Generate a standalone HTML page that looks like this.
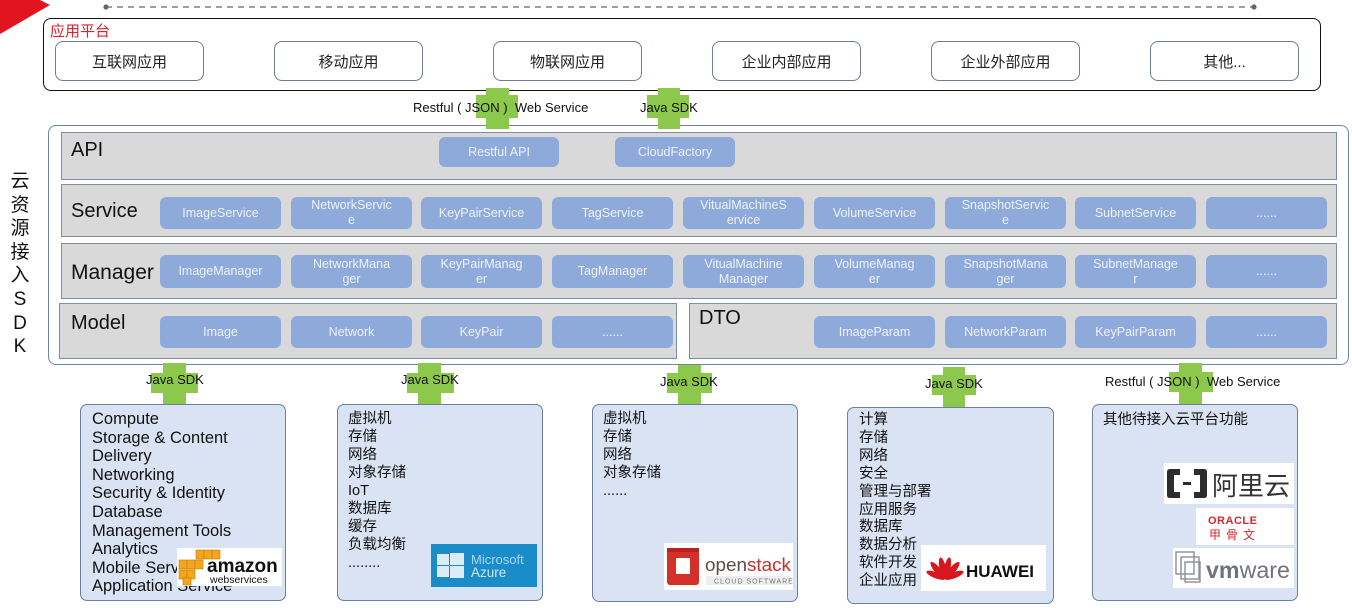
<!DOCTYPE html>
<html><head><meta charset="utf-8">
<style>
*{margin:0;padding:0;box-sizing:border-box}
body{width:1352px;height:608px;background:#fff;position:relative;overflow:hidden;font-family:"Liberation Sans","Noto Sans CJK SC",sans-serif;color:#111}
.a{position:absolute}
.app{position:absolute;top:41px;height:40px;width:149px;border:1px solid #6b7c93;border-radius:8px;background:#fff;display:flex;align-items:center;justify-content:center;font-size:15px;color:#222;font-family:"Liberation Sans","Noto Sans CJK SC",sans-serif}
.row{position:absolute;background:#d9d9d9;border:1px solid #7d8ea6}
.lbl{position:absolute;font-size:20px;color:#111;line-height:1}
.pill{position:absolute;width:121px;background:#8eaadb;border-radius:6px;color:#eef2fa;font-size:12.5px;line-height:15px;display:flex;align-items:center;justify-content:center;text-align:center}
.g{position:absolute;background:#8cc84b}
.ct{position:absolute;font-size:13px;color:#111;white-space:nowrap;line-height:1}
.bx{position:absolute;background:#dae3f3;border:1px solid #6a80a0;border-radius:7px}
.tx{position:absolute;white-space:nowrap;color:#111}
.logo{position:absolute;background:#fff;overflow:hidden}
</style></head><body>

<!-- red corner -->
<svg class="a" style="left:0;top:0" width="60" height="40"><polygon points="0,0 40,0 50,5 0,34" fill="#e3141e"/></svg>
<!-- dashed line -->
<svg class="a" style="left:0;top:0" width="1352" height="14">
<line x1="106" y1="7" x2="1254" y2="7" stroke="#666" stroke-width="1.3" stroke-dasharray="6,5"/>
<circle cx="106" cy="7" r="2.6" fill="#666"/><circle cx="1254" cy="7" r="2.6" fill="#666"/>
</svg>

<!-- app platform -->
<div class="a" style="left:43px;top:18px;width:1278px;height:73px;border:1.5px solid #111;border-radius:8px"></div>
<div class="a" style="left:50px;top:23px;font-size:15px;color:#e0202a;line-height:18px">应用平台</div>
<div class="app" style="left:55px">互联网应用</div>
<div class="app" style="left:274px">移动应用</div>
<div class="app" style="left:493px">物联网应用</div>
<div class="app" style="left:712px">企业内部应用</div>
<div class="app" style="left:931px">企业外部应用</div>
<div class="app" style="left:1150px">其他...</div>

<!-- SDK big box -->
<div class="a" style="left:48px;top:125px;width:1301px;height:240px;border:1px solid #6f86a6;border-radius:8px;background:#fff"></div>

<!-- top crosses -->
<div class="g" style="left:486px;top:88px;width:23px;height:41px"></div>
<div class="g" style="left:476px;top:95px;width:42px;height:23px"></div>
<div class="g" style="left:658px;top:88px;width:22px;height:41px"></div>
<div class="g" style="left:647px;top:95px;width:42px;height:23px"></div>
<div class="ct" style="left:413px;top:101px">Restful ( JSON )&nbsp; Web Service</div>
<div class="ct" style="left:640px;top:101px">Java SDK</div>

<!-- rows -->
<div class="row" style="left:61px;top:132px;width:1276px;height:48px"></div>
<div class="row" style="left:61px;top:184px;width:1276px;height:53px"></div>
<div class="row" style="left:61px;top:243px;width:1276px;height:56px"></div>
<div class="row" style="left:59px;top:303px;width:618px;height:56px"></div>
<div class="row" style="left:689px;top:303px;width:648px;height:56px"></div>

<div class="lbl" style="left:71px;top:140px">API</div>
<div class="lbl" style="left:71px;top:201px">Service</div>
<div class="lbl" style="left:71px;top:262px;font-size:21px">Manager</div>
<div class="lbl" style="left:71px;top:313px">Model</div>
<div class="lbl" style="left:699px;top:308px">DTO</div>

<!-- API pills -->
<div class="pill" style="left:439px;top:137px;height:30px;width:120px">Restful API</div>
<div class="pill" style="left:615px;top:137px;height:30px;width:120px">CloudFactory</div>

<!-- Service pills -->
<div class="pill" style="left:160px;top:197px;height:32px">ImageService</div>
<div class="pill" style="left:291px;top:197px;height:32px">NetworkServic<br>e</div>
<div class="pill" style="left:421px;top:197px;height:32px">KeyPairService</div>
<div class="pill" style="left:552px;top:197px;height:32px">TagService</div>
<div class="pill" style="left:683px;top:197px;height:32px">VitualMachineS<br>ervice</div>
<div class="pill" style="left:814px;top:197px;height:32px">VolumeService</div>
<div class="pill" style="left:945px;top:197px;height:32px">SnapshotServic<br>e</div>
<div class="pill" style="left:1075px;top:197px;height:32px">SubnetService</div>
<div class="pill" style="left:1206px;top:197px;height:32px">......</div>

<!-- Manager pills -->
<div class="pill" style="left:160px;top:255px;height:33px">ImageManager</div>
<div class="pill" style="left:291px;top:255px;height:33px">NetworkMana<br>ger</div>
<div class="pill" style="left:421px;top:255px;height:33px">KeyPairManag<br>er</div>
<div class="pill" style="left:552px;top:255px;height:33px">TagManager</div>
<div class="pill" style="left:683px;top:255px;height:33px">VitualMachine<br>Manager</div>
<div class="pill" style="left:814px;top:255px;height:33px">VolumeManag<br>er</div>
<div class="pill" style="left:945px;top:255px;height:33px">SnapshotMana<br>ger</div>
<div class="pill" style="left:1075px;top:255px;height:33px">SubnetManage<br>r</div>
<div class="pill" style="left:1206px;top:255px;height:33px">......</div>

<!-- Model / DTO pills -->
<div class="pill" style="left:160px;top:316px;height:32px">Image</div>
<div class="pill" style="left:291px;top:316px;height:32px">Network</div>
<div class="pill" style="left:421px;top:316px;height:32px">KeyPair</div>
<div class="pill" style="left:552px;top:316px;height:32px">......</div>
<div class="pill" style="left:814px;top:316px;height:32px">ImageParam</div>
<div class="pill" style="left:945px;top:316px;height:32px">NetworkParam</div>
<div class="pill" style="left:1075px;top:316px;height:32px">KeyPairParam</div>
<div class="pill" style="left:1206px;top:316px;height:32px">......</div>

<!-- vertical label -->
<div class="a" style="left:8px;top:170px;width:24px;text-align:center;font-size:19px;line-height:23.6px;color:#111">云<br>资<br>源<br>接<br>入<br>S<br>D<br>K</div>

<!-- bottom crosses -->
<div class="g" style="left:163px;top:363px;width:23px;height:41px"></div>
<div class="g" style="left:151px;top:373px;width:47px;height:20px"></div>
<div class="g" style="left:418px;top:363px;width:23px;height:41px"></div>
<div class="g" style="left:407px;top:373px;width:47px;height:20px"></div>
<div class="g" style="left:678px;top:365px;width:23px;height:40px"></div>
<div class="g" style="left:667px;top:373px;width:45px;height:20px"></div>
<div class="g" style="left:943px;top:367px;width:22px;height:41px"></div>
<div class="g" style="left:932px;top:375px;width:44px;height:20px"></div>
<div class="g" style="left:1179px;top:363px;width:23px;height:41px"></div>
<div class="g" style="left:1169px;top:372px;width:44px;height:20px"></div>

<!-- bottom boxes -->
<div class="bx" style="left:80px;top:404px;width:206px;height:197px"></div>
<div class="bx" style="left:337px;top:404px;width:206px;height:197px"></div>
<div class="bx" style="left:592px;top:404px;width:206px;height:198px"></div>
<div class="bx" style="left:847px;top:407px;width:207px;height:197px"></div>
<div class="bx" style="left:1092px;top:404px;width:206px;height:197px"></div>

<div class="ct" style="left:146px;top:373px">Java SDK</div>
<div class="ct" style="left:401px;top:373px">Java SDK</div>
<div class="ct" style="left:660px;top:375px">Java SDK</div>
<div class="ct" style="left:925px;top:377px">Java SDK</div>
<div class="ct" style="left:1105px;top:375px">Restful ( JSON )&nbsp; Web Service</div>

<!-- box texts -->
<div class="tx" style="left:92px;top:410px;font-size:16.5px;line-height:18.6px">Compute<br>Storage &amp; Content<br>Delivery<br>Networking<br>Security &amp; Identity<br>Database<br>Management Tools<br>Analytics<br>Mobile Services<br>Application Service</div>
<div class="tx" style="left:348px;top:410px;font-size:14.5px;line-height:18px">虚拟机<br>存储<br>网络<br>对象存储<br>IoT<br>数据库<br>缓存<br>负载均衡<br>........</div>
<div class="tx" style="left:603px;top:410px;font-size:14.5px;line-height:18px">虚拟机<br>存储<br>网络<br>对象存储<br>......</div>
<div class="tx" style="left:859px;top:412px;font-size:14.5px;line-height:17.9px">计算<br>存储<br>网络<br>安全<br>管理与部署<br>应用服务<br>数据库<br>数据分析<br>软件开发<br>企业应用</div>
<div class="tx" style="left:1103px;top:411px;font-size:14.5px;line-height:18px">其他待接入云平台功能</div>

<!-- AWS logo -->
<div class="logo" style="left:177px;top:548px;width:105px;height:38px">
<svg width="105" height="38">
<g fill="#f3a51d" stroke="#c47d0a" stroke-width="0.6">
<rect x="19" y="2" width="8" height="9"/><rect x="27" y="2" width="8" height="9"/><rect x="35" y="2" width="8" height="9"/>
<rect x="2" y="12" width="8" height="9"/><rect x="10" y="12" width="8" height="9"/><rect x="18" y="12" width="8" height="9"/>
<rect x="2" y="22" width="8" height="9"/><rect x="10" y="22" width="8" height="9"/><rect x="6" y="30" width="8" height="7"/>
</g>
<text x="30" y="24" font-family="Liberation Sans" font-weight="bold" font-size="19" fill="#111">amazon</text>
<text x="33" y="35" font-family="Liberation Sans" font-size="10.5" fill="#111">webservices</text>
</svg></div>

<!-- Azure logo -->
<div class="logo" style="left:431px;top:544px;width:106px;height:43px;background:#1a8dc9">
<svg width="106" height="43">
<g fill="#dcecf6"><rect x="6" y="10" width="12" height="11"/><rect x="19" y="9" width="14" height="12"/><rect x="6" y="22" width="12" height="11"/><rect x="19" y="22" width="14" height="12"/></g>
<text x="40" y="20" font-family="Liberation Sans" font-size="13" fill="#a8d6ef">Microsoft</text>
<text x="40" y="33" font-family="Liberation Sans" font-size="13.5" fill="#cfe8f6">Azure</text>
</svg></div>

<!-- OpenStack logo -->
<div class="logo" style="left:664px;top:543px;width:129px;height:47px">
<svg width="129" height="47">
<rect x="3" y="5" width="32" height="37" rx="3" fill="#d3302a"/>
<rect x="12" y="15" width="14" height="16" fill="#fff"/>
<rect x="3" y="5" width="32" height="4" fill="#b8221d"/>
<text x="41" y="28" font-family="Liberation Sans" font-size="18" textLength="86" lengthAdjust="spacingAndGlyphs" fill="#5b4b4b">open<tspan fill="#c8302b">stack</tspan></text>
<rect x="42" y="33" width="85" height="9" fill="#eee"/>
<text x="50" y="40.5" font-family="Liberation Sans" font-size="7" fill="#777" letter-spacing="1">CLOUD SOFTWARE</text>
</svg></div>

<!-- Huawei logo -->
<div class="logo" style="left:921px;top:545px;width:125px;height:46px">
<svg width="125" height="46">
<g fill="#d7161e" transform="translate(24,34)">
<ellipse cx="0" cy="-11" rx="3.2" ry="11" transform="rotate(-12)"/>
<ellipse cx="0" cy="-11" rx="3.2" ry="11" transform="rotate(12)"/>
<ellipse cx="0" cy="-11" rx="3.2" ry="11" transform="rotate(-40)"/>
<ellipse cx="0" cy="-11" rx="3.2" ry="11" transform="rotate(40)"/>
<ellipse cx="0" cy="-10" rx="3" ry="10" transform="rotate(-68)"/>
<ellipse cx="0" cy="-10" rx="3" ry="10" transform="rotate(68)"/>
</g>
<text x="45" y="32" font-family="Liberation Sans" font-weight="bold" font-size="17" fill="#111">HUAWEI</text>
</svg></div>

<!-- Aliyun logo -->
<div class="logo" style="left:1164px;top:463px;width:130px;height:41px">
<svg width="130" height="41">
<path d="M16 6 H6 Q3 6 3 9 V32 Q3 35 6 35 H16 V29 H10 V12 H16 Z" fill="#2d2d2d"/>
<path d="M30 6 H40 Q43 6 43 9 V32 Q43 35 40 35 H30 V29 H36 V12 H30 Z" fill="#2d2d2d"/>
<rect x="19" y="19" width="8" height="3" fill="#2d2d2d"/>
<text x="48" y="32" font-family="Noto Sans CJK SC, sans-serif" font-size="26" fill="#333">阿里云</text>
</svg></div>

<!-- Oracle logo -->
<div class="logo" style="left:1196px;top:508px;width:98px;height:37px">
<svg width="98" height="37">
<text x="12" y="16" font-family="Liberation Sans" font-size="11" font-weight="bold" fill="#d3282e" letter-spacing="0.5">ORACLE</text>
<text x="13" y="31" font-family="Noto Sans CJK SC, sans-serif" font-size="12" fill="#d3282e" letter-spacing="5">甲骨文</text>
</svg></div>

<!-- VMware logo -->
<div class="logo" style="left:1173px;top:548px;width:121px;height:40px">
<svg width="121" height="40">
<g fill="none" stroke="#8a8f99" stroke-width="1.4">
<rect x="3" y="4" width="18" height="22"/><rect x="8" y="9" width="18" height="22"/><rect x="12" y="14" width="15" height="20"/>
</g>
<text x="33" y="30" font-family="Liberation Sans" font-size="23" textLength="84" lengthAdjust="spacingAndGlyphs" fill="#6f737b"><tspan font-weight="bold">vm</tspan>ware</text>
</svg></div>

</body></html>
